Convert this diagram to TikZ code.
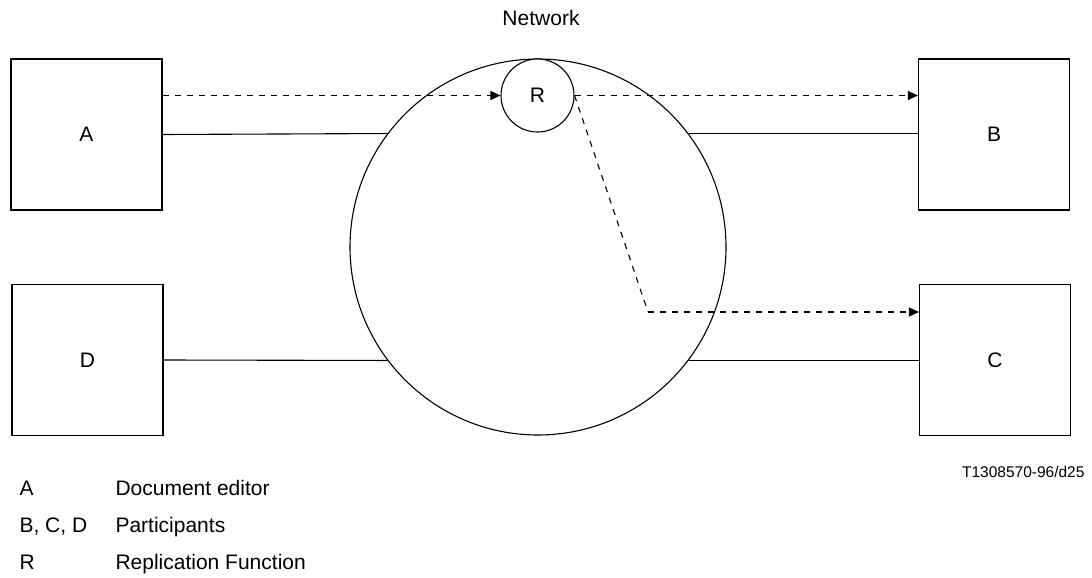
\documentclass[tikz,border=0pt]{standalone}
\usepackage{fontspec}
\setmainfont{Liberation Sans}
\usetikzlibrary{arrows.meta}
\begin{document}
\begin{tikzpicture}[x=1pt,y=-1pt,
  line width=1.1pt,
  every node/.style={font=\fontsize{21}{25}\selectfont, inner sep=0pt},
  box/.style={draw, rectangle, minimum width=151pt, minimum height=151pt},
  netcircle/.style={draw, circle, minimum size=376pt},
  rcircle/.style={draw, circle, minimum size=73pt, fill=white},
  link/.style={line width=1.1pt},
  flow/.style={dash pattern=on 6pt off 6pt, -{Triangle[length=10pt,width=9pt]}},
  flowplain/.style={dash pattern=on 6pt off 6pt},
  legend/.style={anchor=base west},
  small/.style={font=\fontsize{15.5}{18}\selectfont}
]
\useasboundingbox (0,0) rectangle (1092,578);
\node[box] (A) at (86.5,134.5) {A};
\node[box] (B) at (994,134.5) {B};
\node[box] (C) at (995,360) {C};
\node[box] (D) at (87.5,360) {D};
\node[netcircle] (net) at (538,247) {};
\node[rcircle] (R) at (537.5,95.5) {R};
\node[anchor=base] (netlabel) at (541,26) {Network};
% solid links
\draw[link] (A.east) -- (net.143);
\draw[link] (net.37) -- (net.37 -| B.west);
\draw[link] (D.east) -- (net.217);
\draw[link] (net.-37) -- (net.-37 -| C.west);
% dashed flows
\draw[flow] (A.east |- R.west) -- (R.west);
\draw[flow] (R.east) -- (R.east -| B.west);
\coordinate (bend) at (648,312);
\draw[flowplain] (R.east) -- (bend);
\draw[flow] (bend) -- (bend -| C.west);
% labels
\node[small, anchor=base east] (code) at (1085,477) {T1308570-96/d25};
\node[legend] (la) at (19,495) {A};
\node[legend] (lad) at (115,495) {Document editor};
\node[legend] (lb) at (19,532) {B, C, D};
\node[legend] (lbd) at (115,532) {Participants};
\node[legend] (lr) at (19,569) {R};
\node[legend] (lrd) at (115,569) {Replication Function};
\end{tikzpicture}
\end{document}
